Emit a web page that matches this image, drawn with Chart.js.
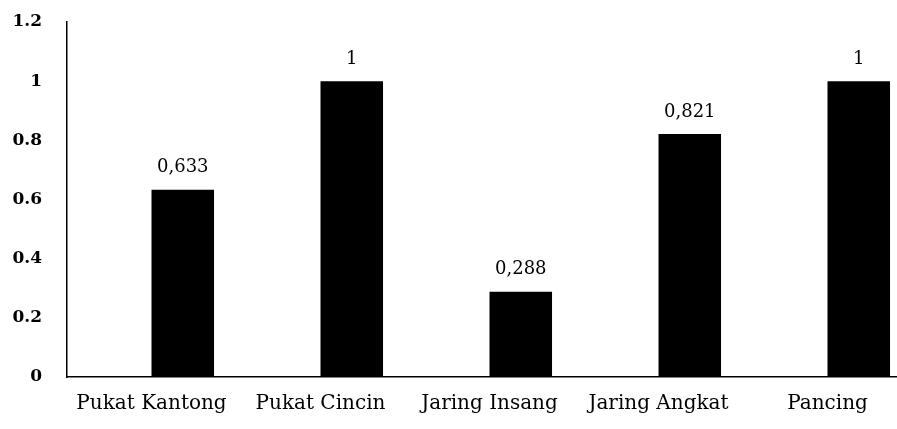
<!DOCTYPE html>
<html>
<head>
<meta charset="utf-8">
<script src="https://cdn.jsdelivr.net/npm/chart.js@4.4.1/dist/chart.umd.min.js"></script>
<style>
  html, body { margin: 0; padding: 0; background: #fff; overflow: hidden; }
  #wrap { width: 912px; height: 429px; }
</style>
</head>
<body>
<div id="wrap"><canvas id="chart" width="912" height="429"></canvas></div>
<script>
const categories = ['Pukat Kantong', 'Pukat Cincin', 'Jaring Insang', 'Jaring Angkat', 'Pancing']
const values = [0.633, 1, 0.288, 0.821, 1]
const valueLabels = ['0,633', '1', '0,288', '0,821', '1']
const yTicks = [0, 0.2, 0.4, 0.6, 0.8, 1, 1.2]

const serif = "'DejaVu Serif', 'Liberation Serif', serif"

// writes the value above each visible bar
const barValues = {
    id: 'barValues',
    afterDatasetsDraw(chart) {
        const { ctx } = chart
        const meta = chart.getDatasetMeta(1)
        ctx.save()
        ctx.fillStyle = '#000'
        ctx.font = '18px ' + serif
        ctx.textAlign = 'center'
        ctx.textBaseline = 'bottom'
        meta.data.forEach((bar, i) => {
            ctx.fillText(valueLabels[i], bar.x, bar.y - 13)
        })
        ctx.restore()
    }
}

new Chart(document.getElementById('chart'), {
    type: 'bar',
    data: {
        labels: categories,
        datasets: [
            { label: '', data: categories.map(() => null), backgroundColor: '#000' },
            { label: 'Nilai', data: values, backgroundColor: '#000' }
        ]
    },
    options: {
        responsive: false,
        animation: false,
        layout: { padding: { top: 22, right: 0, bottom: 0, left: 0 } },
        datasets: { bar: { barPercentage: 1, categoryPercentage: 0.74 } },
        plugins: { legend: { display: false }, tooltip: { enabled: false } },
        scales: {
            x: {
                grid: { display: false, drawTicks: false },
                border: { display: true, color: '#000', width: 1.5 },
                ticks: { color: '#000', padding: 15, maxRotation: 0, font: { family: serif, size: 20 } },
                afterFit(scale) { scale.height = 52 }
            },
            y: {
                min: 0,
                max: 1.2,
                afterBuildTicks(scale) { scale.ticks = yTicks.map(v => ({ value: v })) },
                grid: { display: false, drawTicks: false },
                border: { display: true, color: '#000', width: 1.5 },
                ticks: {
                    color: '#000',
                    padding: 25,
                    font: { family: serif, size: 17, weight: 'bold' },
                    callback: v => String(Math.round(v * 10) / 10)
                },
                afterFit(scale) {
                    scale.width = 67
                    scale.paddingTop = 10
                    scale.paddingBottom = 10
                }
            }
        }
    },
    plugins: [barValues]
})
</script>
</body>
</html>
